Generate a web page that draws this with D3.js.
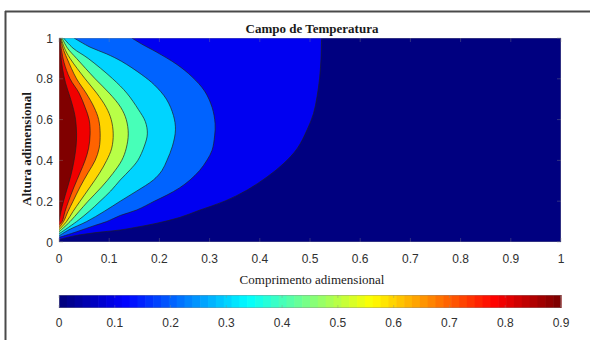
<!DOCTYPE html>
<html>
<head>
<meta charset="utf-8">
<script src="https://cdn.jsdelivr.net/npm/d3@7"></script>
<style>
  html, body { margin: 0; padding: 0; background: #fff; }
  svg { display: block; }
</style>
</head>
<body>
<svg id="chart" width="590" height="340"></svg>
<script>
// Isotherm levels of the dimensionless temperature field
const levels = [0.1, 0.2, 0.3, 0.4, 0.5, 0.6, 0.7, 0.8, 0.9];

// Each isotherm as [length, height] points, from the lower wall side to the upper wall
const iso01 = [[0,0.012],[0.03,0.03],[0.07,0.045],[0.122,0.059],[0.16,0.075],[0.195,0.092],[0.24,0.12],[0.281,0.157],[0.33,0.2],[0.375,0.255],[0.415,0.32],[0.448,0.386],[0.475,0.46],[0.494,0.549],[0.507,0.63],[0.514,0.712],[0.519,0.8],[0.522,0.9],[0.523,1.0]];
const iso02 = [[0,0.022],[0.035,0.05],[0.07,0.08],[0.095,0.1],[0.122,0.13],[0.155,0.157],[0.19,0.2],[0.215,0.23],[0.24,0.265],[0.261,0.304],[0.28,0.35],[0.295,0.402],[0.305,0.45],[0.31,0.52],[0.311,0.58],[0.305,0.66],[0.29,0.74],[0.265,0.81],[0.235,0.87],[0.195,0.93],[0.165,0.97],[0.145,1.0]];
const iso03 = [[0,0.03],[0.02,0.06],[0.055,0.1],[0.09,0.15],[0.122,0.2],[0.155,0.25],[0.188,0.304],[0.205,0.35],[0.215,0.4],[0.226,0.47],[0.232,0.55],[0.228,0.62],[0.214,0.7],[0.19,0.77],[0.165,0.82],[0.125,0.885],[0.095,0.922],[0.062,0.955],[0.03,1.0]];
const iso04 = [[0,0.04],[0.035,0.1],[0.06,0.15],[0.082,0.2],[0.103,0.25],[0.122,0.304],[0.142,0.355],[0.157,0.4],[0.17,0.47],[0.176,0.53],[0.172,0.59],[0.158,0.65],[0.135,0.73],[0.107,0.8],[0.058,0.9],[0.028,0.95],[0.009,1.0]];
const iso05 = [[0,0.05],[0.022,0.1],[0.04,0.15],[0.058,0.2],[0.085,0.27],[0.107,0.335],[0.125,0.4],[0.134,0.46],[0.138,0.53],[0.134,0.6],[0.123,0.66],[0.1,0.73],[0.072,0.8],[0.035,0.9],[0.017,0.95],[0.006,1.0]];
const iso06 = [[0,0.06],[0.015,0.1],[0.028,0.15],[0.042,0.2],[0.062,0.27],[0.08,0.335],[0.095,0.4],[0.105,0.46],[0.108,0.53],[0.104,0.6],[0.094,0.66],[0.075,0.73],[0.052,0.8],[0.022,0.9],[0.011,0.95],[0.004,1.0]];
const iso07 = [[0,0.07],[0.009,0.1],[0.018,0.15],[0.028,0.2],[0.042,0.27],[0.058,0.34],[0.072,0.4],[0.08,0.46],[0.082,0.53],[0.079,0.6],[0.07,0.66],[0.054,0.73],[0.035,0.8],[0.016,0.9],[0.008,0.95],[0.003,1.0]];
const iso08 = [[0,0.085],[0.006,0.1],[0.012,0.15],[0.019,0.2],[0.03,0.27],[0.042,0.34],[0.052,0.4],[0.059,0.46],[0.062,0.53],[0.06,0.6],[0.052,0.66],[0.04,0.73],[0.022,0.8],[0.01,0.88],[0.005,0.94],[0.002,1.0]];
const iso09 = [[0,0.1],[0.004,0.15],[0.009,0.2],[0.016,0.26],[0.024,0.33],[0.03,0.4],[0.034,0.47],[0.035,0.53],[0.033,0.6],[0.029,0.65],[0.022,0.71],[0.013,0.78],[0.007,0.85],[0.003,0.93],[0.001,1.0]];
const isotherms = [iso01, iso02, iso03, iso04, iso05, iso06, iso07, iso08, iso09];

// Axis ticks
const xTicks = [0, 0.1, 0.2, 0.3, 0.4, 0.5, 0.6, 0.7, 0.8, 0.9, 1];
const yTicks = [0, 0.2, 0.4, 0.6, 0.8, 1];
const cbarTicks = [0, 0.1, 0.2, 0.3, 0.4, 0.5, 0.6, 0.7, 0.8, 0.9];
const cbarMax = 0.9;

// MATLAB-style jet colormap
function jet(t) {
  const c = v => Math.round(255 * Math.max(0, Math.min(1, v)));
  return `rgb(${c(1.5 - Math.abs(4 * t - 3))},${c(1.5 - Math.abs(4 * t - 2))},${c(1.5 - Math.abs(4 * t - 1))})`;
}

const svg = d3.select("#chart");
const plot = { left: 59, right: 561, top: 38, bottom: 242 };
const x = d3.scaleLinear().domain([0, 1]).range([plot.left, plot.right]);
const y = d3.scaleLinear().domain([0, 1]).range([plot.bottom, plot.top]);
const colour = v => jet(v / cbarMax);

// Figure frame
svg.append("line").attr("x1", 5).attr("x2", 590).attr("y1", 11.5).attr("y2", 11.5)
  .attr("stroke", "#4a4a4a").attr("stroke-width", 2);
svg.append("line").attr("x1", 5.5).attr("x2", 5.5).attr("y1", 11).attr("y2", 340)
  .attr("stroke", "#4a4a4a").attr("stroke-width", 2);

svg.append("clipPath").attr("id", "plotClip").append("rect")
  .attr("x", plot.left).attr("y", plot.top)
  .attr("width", plot.right - plot.left).attr("height", plot.bottom - plot.top);

const field = svg.append("g").attr("clip-path", "url(#plotClip)");

// Lowest band fills the whole domain
field.append("rect")
  .attr("x", plot.left).attr("y", plot.top)
  .attr("width", plot.right - plot.left).attr("height", plot.bottom - plot.top)
  .attr("fill", colour(0));

const line = d3.line().x(d => x(d[0])).y(d => y(d[1])).curve(d3.curveCatmullRom.alpha(0.5));

// Filled bands: each region lies between its isotherm and the inlet (x = 0)
isotherms.forEach((pts, i) => {
  const start = pts[0];
  const path = line(pts) + `L${x(0)},${y(1)}L${x(0)},${y(start[1])}Z`;
  field.append("path").attr("d", path).attr("fill", colour(levels[i]));
});

// Isotherm lines
isotherms.forEach(pts => {
  field.append("path").attr("d", line(pts))
    .attr("fill", "none").attr("stroke", "#1e1e1e").attr("stroke-width", 0.8).attr("stroke-opacity", 0.85);
});

// Axes box and inward ticks
const axisCol = "#8a8a8a";
svg.append("rect").attr("x", plot.left + 0.5).attr("y", plot.top + 0.5)
  .attr("width", plot.right - plot.left - 1).attr("height", plot.bottom - plot.top - 1)
  .attr("fill", "none").attr("stroke", axisCol).attr("stroke-width", 0.6).attr("stroke-opacity", 0.6);

const ticks = svg.append("g").attr("stroke", axisCol).attr("stroke-width", 0.6).attr("stroke-opacity", 0.6);
xTicks.forEach(t => {
  ticks.append("line").attr("x1", x(t)).attr("x2", x(t)).attr("y1", plot.bottom).attr("y2", plot.bottom - 4);
  ticks.append("line").attr("x1", x(t)).attr("x2", x(t)).attr("y1", plot.top).attr("y2", plot.top + 4);
});
yTicks.forEach(t => {
  ticks.append("line").attr("y1", y(t)).attr("y2", y(t)).attr("x1", plot.left).attr("x2", plot.left + 4);
  ticks.append("line").attr("y1", y(t)).attr("y2", y(t)).attr("x1", plot.right).attr("x2", plot.right - 4);
});

const sans = "'Liberation Sans', Arial, sans-serif";
const serif = "'Liberation Serif', 'Times New Roman', serif";
const labelCol = "#303030";

svg.append("g").selectAll("text").data(xTicks).join("text")
  .attr("x", d => x(d)).attr("y", 263)
  .attr("text-anchor", "middle").attr("font-family", sans).attr("font-size", 12).attr("fill", labelCol)
  .text(d => d3.format("~g")(d));

svg.append("g").selectAll("text").data(yTicks).join("text")
  .attr("x", 53).attr("y", d => y(d) + 4.5)
  .attr("text-anchor", "end").attr("font-family", sans).attr("font-size", 12).attr("fill", labelCol)
  .text(d => d3.format("~g")(d));

// Titles
svg.append("text").attr("x", 312).attr("y", 33).attr("text-anchor", "middle")
  .attr("font-family", serif).attr("font-weight", "bold").attr("font-size", 13).attr("fill", "#1a1a1a")
  .text("Campo de Temperatura");
svg.append("text").attr("x", 312).attr("y", 284).attr("text-anchor", "middle")
  .attr("font-family", serif).attr("font-size", 13).attr("fill", "#1a1a1a")
  .text("Comprimento adimensional");
svg.append("text").attr("transform", "translate(31,149) rotate(-90)").attr("text-anchor", "middle")
  .attr("font-family", serif).attr("font-weight", "bold").attr("font-size", 13).attr("fill", "#1a1a1a")
  .text("Altura adimensional");

// Colour bar
const cb = { left: 59, right: 561, top: 295, bottom: 308 };
const cx = d3.scaleLinear().domain([0, cbarMax]).range([cb.left, cb.right]);
const nColours = 64;
const cbar = svg.append("g");
d3.range(nColours).forEach(i => {
  const v0 = i * cbarMax / nColours, v1 = (i + 1) * cbarMax / nColours;
  cbar.append("rect").attr("x", cx(v0)).attr("y", cb.top)
    .attr("width", cx(v1) - cx(v0) + 0.6).attr("height", cb.bottom - cb.top)
    .attr("fill", jet(i / (nColours - 1)));
});
cbar.append("rect").attr("x", cb.left + 0.5).attr("y", cb.top + 0.5)
  .attr("width", cb.right - cb.left - 1).attr("height", cb.bottom - cb.top - 1)
  .attr("fill", "none").attr("stroke", axisCol).attr("stroke-width", 0.6).attr("stroke-opacity", 0.7);
const cbTickG = cbar.append("g").attr("stroke", axisCol).attr("stroke-width", 0.6).attr("stroke-opacity", 0.6);
cbarTicks.forEach(t => {
  cbTickG.append("line").attr("x1", cx(t)).attr("x2", cx(t)).attr("y1", cb.top).attr("y2", cb.top + 3);
  cbTickG.append("line").attr("x1", cx(t)).attr("x2", cx(t)).attr("y1", cb.bottom).attr("y2", cb.bottom - 3);
});
svg.append("g").selectAll("text").data(cbarTicks).join("text")
  .attr("x", d => cx(d)).attr("y", 327)
  .attr("text-anchor", "middle").attr("font-family", sans).attr("font-size", 12).attr("fill", labelCol)
  .text(d => d3.format("~g")(d));
</script>
</body>
</html>
